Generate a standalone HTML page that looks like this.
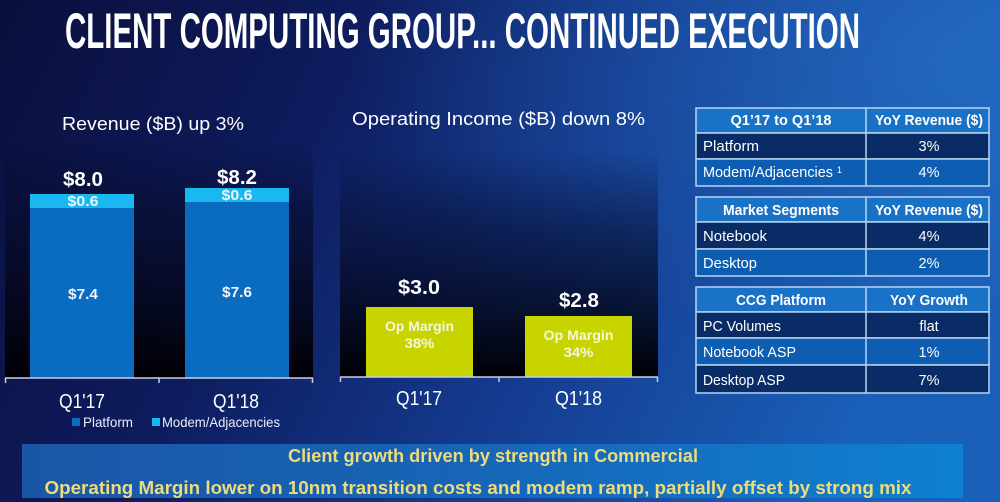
<!DOCTYPE html>
<html><head><meta charset="utf-8">
<style>
html,body{margin:0;padding:0;width:1000px;height:502px;overflow:hidden;background:#0c1242;}
svg{display:block;}
text{font-family:"Liberation Sans",sans-serif;}
</style></head>
<body>
<svg width="1000" height="502" viewBox="0 0 1000 502" xmlns="http://www.w3.org/2000/svg">
<defs>
<linearGradient id="bg" x1="0" y1="0" x2="1" y2="0.25">
<stop offset="0" stop-color="#0a0f3c"/>
<stop offset="0.35" stop-color="#0e1c5e"/>
<stop offset="0.65" stop-color="#143a8e"/>
<stop offset="1" stop-color="#1a5fb8"/>
</linearGradient>
<radialGradient id="glow" cx="0.95" cy="0.1" r="0.6">
<stop offset="0" stop-color="#2a78cc" stop-opacity="0.5"/>
<stop offset="1" stop-color="#2a78cc" stop-opacity="0"/>
</radialGradient>
<linearGradient id="panel" x1="0" y1="0" x2="0" y2="1">
<stop offset="0" stop-color="#060a26" stop-opacity="0"/>
<stop offset="0.3" stop-color="#060a26" stop-opacity="0.55"/>
<stop offset="1" stop-color="#000004" stop-opacity="1"/>
</linearGradient>
<linearGradient id="panel2" x1="0" y1="0" x2="0" y2="1">
<stop offset="0" stop-color="#060a26" stop-opacity="0"/>
<stop offset="0.35" stop-color="#060a26" stop-opacity="0.5"/>
<stop offset="1" stop-color="#000004" stop-opacity="1"/>
</linearGradient>
<linearGradient id="ban" x1="0" y1="0" x2="1" y2="0">
<stop offset="0" stop-color="#1a56a6"/>
<stop offset="0.5" stop-color="#1766b8"/>
<stop offset="1" stop-color="#0f80d2"/>
</linearGradient>
</defs>
<rect width="1000" height="502" fill="url(#bg)"/>
<rect width="1000" height="502" fill="url(#glow)"/>

<!-- Title -->
<text x="65" y="48" font-size="50" font-weight="bold" fill="#ffffff" textLength="795" lengthAdjust="spacingAndGlyphs">CLIENT COMPUTING GROUP... CONTINUED EXECUTION</text>

<!-- Left panel -->
<rect x="5" y="140" width="308" height="238" fill="url(#panel)"/>
<text x="62" y="130" font-size="18" fill="#ffffff" textLength="182" lengthAdjust="spacingAndGlyphs">Revenue ($B) up 3%</text>
<rect x="30" y="194" width="104" height="184" fill="#0a6cc0"/>
<rect x="30" y="194" width="104" height="14" fill="#1ab8f0"/>
<rect x="185" y="188" width="104" height="190" fill="#0a6cc0"/>
<rect x="185" y="188" width="104" height="14" fill="#1ab8f0"/>
<text x="83" y="186" font-size="20" font-weight="bold" fill="#fff" text-anchor="middle" textLength="40" lengthAdjust="spacingAndGlyphs">$8.0</text>
<text x="237" y="184" font-size="20" font-weight="bold" fill="#fff" text-anchor="middle" textLength="40" lengthAdjust="spacingAndGlyphs">$8.2</text>
<text x="83" y="206" font-size="15" font-weight="bold" fill="#e8f6ff" text-anchor="middle" textLength="31" lengthAdjust="spacingAndGlyphs">$0.6</text>
<text x="237" y="200" font-size="15" font-weight="bold" fill="#e8f6ff" text-anchor="middle" textLength="31" lengthAdjust="spacingAndGlyphs">$0.6</text>
<text x="83" y="299" font-size="15" font-weight="bold" fill="#f0f4ff" text-anchor="middle" textLength="30" lengthAdjust="spacingAndGlyphs">$7.4</text>
<text x="237" y="297" font-size="15" font-weight="bold" fill="#f0f4ff" text-anchor="middle" textLength="30" lengthAdjust="spacingAndGlyphs">$7.6</text>
<path d="M5 378 H313 M5.5 378 V383 M159 378 V383 M312.5 378 V383" stroke="#c8d0e0" stroke-width="1.5" fill="none"/>
<text x="82" y="408" font-size="20" fill="#fff" text-anchor="middle" textLength="46" lengthAdjust="spacingAndGlyphs">Q1'17</text>
<text x="236" y="408" font-size="20" fill="#fff" text-anchor="middle" textLength="46" lengthAdjust="spacingAndGlyphs">Q1'18</text>
<rect x="72" y="418" width="8" height="8" fill="#0a6cc0"/>
<text x="83" y="427" font-size="14" fill="#e8eefa" textLength="50" lengthAdjust="spacingAndGlyphs">Platform</text>
<rect x="152" y="418" width="8" height="8" fill="#1ab8f0"/>
<text x="162" y="427" font-size="14" fill="#e8eefa" textLength="118" lengthAdjust="spacingAndGlyphs">Modem/Adjacencies</text>

<!-- Middle panel -->
<rect x="340" y="150" width="318" height="227" fill="url(#panel2)"/>
<text x="352" y="125" font-size="18.5" fill="#ffffff" textLength="293" lengthAdjust="spacingAndGlyphs">Operating Income ($B) down 8%</text>
<rect x="366" y="307" width="107" height="70" fill="#c8d400"/>
<rect x="525" y="316" width="107" height="61" fill="#c8d400"/>
<text x="419" y="294" font-size="20" font-weight="bold" fill="#fff" text-anchor="middle" textLength="42" lengthAdjust="spacingAndGlyphs">$3.0</text>
<text x="579" y="307" font-size="20" font-weight="bold" fill="#fff" text-anchor="middle" textLength="40" lengthAdjust="spacingAndGlyphs">$2.8</text>
<text x="419.5" y="331" font-size="14" font-weight="bold" fill="#f4f6e0" text-anchor="middle" textLength="69" lengthAdjust="spacingAndGlyphs">Op Margin</text>
<text x="419.5" y="348" font-size="14" font-weight="bold" fill="#f4f6e0" text-anchor="middle" textLength="30" lengthAdjust="spacingAndGlyphs">38%</text>
<text x="578.5" y="340" font-size="14" font-weight="bold" fill="#f4f6e0" text-anchor="middle" textLength="70" lengthAdjust="spacingAndGlyphs">Op Margin</text>
<text x="578.5" y="357" font-size="14" font-weight="bold" fill="#f4f6e0" text-anchor="middle" textLength="30" lengthAdjust="spacingAndGlyphs">34%</text>
<path d="M340 377 H658 M340.5 377 V382 M499 377 V382 M657.5 377 V382" stroke="#c8d0e0" stroke-width="1.5" fill="none"/>
<text x="419" y="405" font-size="20" fill="#fff" text-anchor="middle" textLength="46" lengthAdjust="spacingAndGlyphs">Q1'17</text>
<text x="578.5" y="405" font-size="20" fill="#fff" text-anchor="middle" textLength="47" lengthAdjust="spacingAndGlyphs">Q1'18</text>

<!-- Tables -->
<g stroke="#b8d4f0" stroke-width="1.5">
<rect x="696" y="108" width="293" height="25" fill="#1a72c6"/>
<rect x="696" y="133" width="293" height="26" fill="#0a2c66"/>
<rect x="696" y="159" width="293" height="27" fill="#0d5db2"/>
<line x1="866" y1="108" x2="866" y2="186"/>
<rect x="696" y="197" width="293" height="25" fill="#1a72c6"/>
<rect x="696" y="222" width="293" height="27" fill="#0a2c66"/>
<rect x="696" y="249" width="293" height="27" fill="#0d5db2"/>
<line x1="866" y1="197" x2="866" y2="276"/>
<rect x="696" y="287" width="293" height="25" fill="#1a72c6"/>
<rect x="696" y="312" width="293" height="26" fill="#0a2c66"/>
<rect x="696" y="338" width="293" height="27" fill="#0d5db2"/>
<rect x="696" y="365" width="293" height="28" fill="#0a2c66"/>
<line x1="866" y1="287" x2="866" y2="393"/>
</g>
<g font-size="14.5" fill="#ffffff">
<text x="781" y="125" font-weight="bold" text-anchor="middle" textLength="101" lengthAdjust="spacingAndGlyphs">Q1’17 to Q1’18</text>
<text x="929" y="125" font-weight="bold" text-anchor="middle" textLength="108" lengthAdjust="spacingAndGlyphs">YoY Revenue ($)</text>
<text x="703" y="151" textLength="56" lengthAdjust="spacingAndGlyphs">Platform</text>
<text x="929" y="151" text-anchor="middle">3%</text>
<text x="703" y="177" textLength="130" lengthAdjust="spacingAndGlyphs">Modem/Adjacencies</text>
<text x="837" y="173" font-size="9">1</text>
<text x="929" y="177" text-anchor="middle">4%</text>
<text x="781" y="215" font-weight="bold" text-anchor="middle" textLength="116" lengthAdjust="spacingAndGlyphs">Market Segments</text>
<text x="929" y="215" font-weight="bold" text-anchor="middle" textLength="108" lengthAdjust="spacingAndGlyphs">YoY Revenue ($)</text>
<text x="703" y="241" textLength="64" lengthAdjust="spacingAndGlyphs">Notebook</text>
<text x="929" y="241" text-anchor="middle">4%</text>
<text x="703" y="268" textLength="54" lengthAdjust="spacingAndGlyphs">Desktop</text>
<text x="929" y="268" text-anchor="middle">2%</text>
<text x="781" y="305" font-weight="bold" text-anchor="middle" textLength="90" lengthAdjust="spacingAndGlyphs">CCG Platform</text>
<text x="929" y="305" font-weight="bold" text-anchor="middle" textLength="78" lengthAdjust="spacingAndGlyphs">YoY Growth</text>
<text x="703" y="331" textLength="78" lengthAdjust="spacingAndGlyphs">PC Volumes</text>
<text x="929" y="331" text-anchor="middle">flat</text>
<text x="703" y="357" textLength="93" lengthAdjust="spacingAndGlyphs">Notebook ASP</text>
<text x="929" y="357" text-anchor="middle">1%</text>
<text x="703" y="385" textLength="82" lengthAdjust="spacingAndGlyphs">Desktop ASP</text>
<text x="929" y="385" text-anchor="middle">7%</text>
</g>

<!-- Bottom banner -->
<rect x="22" y="444" width="941" height="54" fill="url(#ban)"/>
<text x="493" y="462" font-size="18" font-weight="bold" fill="#ecdc7c" text-anchor="middle" textLength="410" lengthAdjust="spacingAndGlyphs">Client growth driven by strength in Commercial</text>
<text x="478" y="494" font-size="18" font-weight="bold" fill="#ecdc7c" text-anchor="middle" textLength="867" lengthAdjust="spacingAndGlyphs">Operating Margin lower on 10nm transition costs and modem ramp, partially offset by strong mix</text>
</svg>
</body></html>
